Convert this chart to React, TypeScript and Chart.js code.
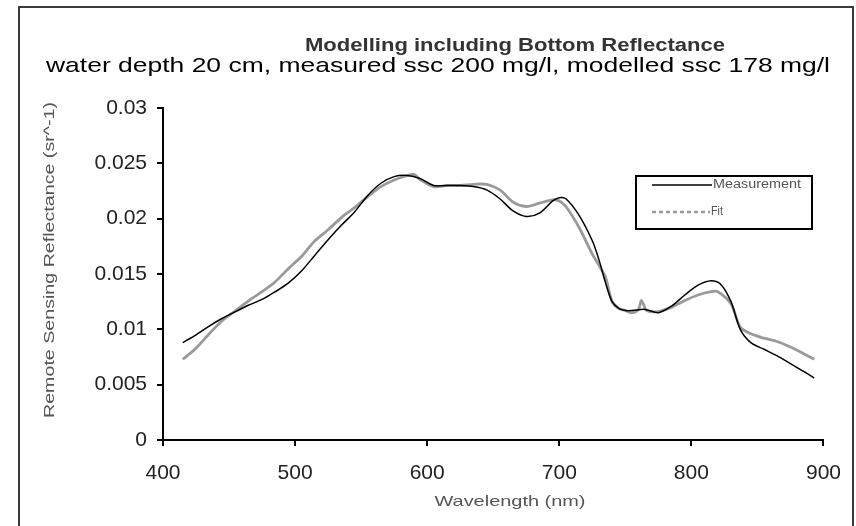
import React, { useEffect, useRef } from "react";
import { Chart, registerables } from "chart.js";

Chart.register(...registerables);

const titleText = "Modelling including Bottom Reflectance";
const subtitleText = "water depth 20 cm, measured ssc 200 mg/l, modelled ssc 178 mg/l";
const xAxisTitle = "Wavelength (nm)";
const yAxisTitle = "Remote Sensing Reflectance (sr^-1)";
const seriesNames = ["Measurement", "Fit"];

const measWavelength = [
  415, 425, 435, 445, 455, 465, 475, 485, 495, 505, 515, 525, 535, 545, 555, 565, 575, 585,
  595, 605, 615, 625, 635, 645, 655, 665, 675, 685, 695, 700, 705, 715, 725, 730, 735, 740,
  745, 750, 755, 765, 775, 785, 795, 805, 815, 822, 830, 837, 845, 855, 865, 875, 885, 893,
];
const measurement = [
  0.0088, 0.0095, 0.0103, 0.011, 0.0116, 0.0122, 0.0127, 0.0134, 0.0142, 0.0153, 0.0167,
  0.0181, 0.0194, 0.0206, 0.0221, 0.0232, 0.0238, 0.0239, 0.0236, 0.023, 0.023, 0.023, 0.0229,
  0.0226, 0.0218, 0.0207, 0.0202, 0.0205, 0.0216, 0.0219, 0.0218, 0.0203, 0.018, 0.0163,
  0.0142, 0.0125, 0.0119, 0.0117, 0.0117, 0.0118, 0.0115, 0.0121, 0.0131, 0.014, 0.0144,
  0.0141, 0.0125, 0.01, 0.0088, 0.0082, 0.0076, 0.0069, 0.0062, 0.0056,
];

const fitWavelength = [
  415, 425, 435, 445, 455, 465, 475, 485, 495, 505, 515, 525, 535, 545, 555, 565, 575, 585,
  590, 595, 605, 615, 625, 635, 645, 655, 665, 675, 685, 695, 700, 705, 715, 725, 730, 735,
  740, 745, 750, 755, 760, 762, 764, 766, 775, 785, 795, 805, 815, 820, 830, 837, 845, 855,
  865, 875, 885, 893,
];
const fit = [
  0.0073, 0.0083, 0.0096, 0.0108, 0.0117, 0.0126, 0.0134, 0.0143, 0.0155, 0.0166, 0.018,
  0.019, 0.0201, 0.021, 0.022, 0.0229, 0.0235, 0.0239, 0.024, 0.0235, 0.0229, 0.023, 0.023,
  0.0231, 0.0231, 0.0226, 0.0215, 0.0211, 0.0214, 0.0217, 0.0216, 0.0211, 0.0192, 0.0168,
  0.0158, 0.0147, 0.0125, 0.0119, 0.0117, 0.0115, 0.0118, 0.0126, 0.0122, 0.0117, 0.0116,
  0.012, 0.0126, 0.0131, 0.0134, 0.0134, 0.0123, 0.0102, 0.0096, 0.0092, 0.0089, 0.0084,
  0.0078, 0.0073,
];

const FONT = "'Liberation Sans', Arial, sans-serif";

function fittedText(ctx: any, text: string, cx: number, y: number, font: string, width: number) {
  ctx.save();
  ctx.font = font;
  const w = ctx.measureText(text).width;
  ctx.translate(cx, y);
  ctx.scale(width / w, 1);
  ctx.textAlign = "center";
  ctx.fillText(text, 0, 0);
  ctx.restore();
}

const decor = {
  id: "decor",
  beforeDraw(chart: any) {
    const ctx = chart.ctx;
    ctx.save();
    ctx.fillStyle = "#fff";
    ctx.fillRect(0, 0, chart.width, chart.height);
    ctx.restore();
  },
  afterDraw(chart: any) {
    const ctx = chart.ctx;
    ctx.save();
    // frame
    ctx.strokeStyle = "#3a3a3a";
    ctx.lineWidth = 2;
    ctx.strokeRect(19, 7, 834, 560);

    // titles
    ctx.textBaseline = "alphabetic";
    ctx.fillStyle = "#333";
    fittedText(ctx, titleText, 515, 51, "bold 18px " + FONT, 420);
    ctx.fillStyle = "#000";
    fittedText(ctx, subtitleText, 438, 72, "21px " + FONT, 784);

    // axis titles
    ctx.textBaseline = "middle";
    ctx.fillStyle = "#555";
    fittedText(ctx, xAxisTitle, 510, 502, "15px " + FONT, 151);
    ctx.save();
    ctx.translate(50, 260);
    ctx.rotate(-Math.PI / 2);
    fittedText(ctx, yAxisTitle, 0, 0, "15px " + FONT, 316);
    ctx.restore();

    // legend
    ctx.strokeStyle = "#000";
    ctx.lineWidth = 2;
    ctx.strokeRect(636, 176, 176, 53);
    ctx.lineWidth = 1.5;
    ctx.beginPath();
    ctx.moveTo(652, 185);
    ctx.lineTo(712, 185);
    ctx.stroke();
    ctx.strokeStyle = "#999";
    ctx.lineWidth = 2.5;
    ctx.setLineDash([4, 3]);
    ctx.beginPath();
    ctx.moveTo(652, 212);
    ctx.lineTo(710, 212);
    ctx.stroke();
    ctx.setLineDash([]);
    ctx.fillStyle = "#555";
    fittedText(ctx, seriesNames[0], 757, 185, "12px " + FONT, 88);
    fittedText(ctx, seriesNames[1], 717, 212, "12px " + FONT, 12);
    ctx.restore();
  },
};

export default function App() {
  const ref = useRef<HTMLCanvasElement | null>(null);
  useEffect(() => {
    document.body.style.margin = "0";
    const canvas = ref.current!;
    const chart = new Chart(canvas, {
      type: "line",
      data: {
        datasets: [
          {
            label: seriesNames[0],
            data: measWavelength.map((x, i) => ({ x, y: measurement[i] })),
            borderColor: "#000",
            borderWidth: 1.5,
            pointRadius: 0,
            tension: 0.3,
            order: 0,
          },
          {
            label: seriesNames[1],
            data: fitWavelength.map((x, i) => ({ x, y: fit[i] })),
            borderColor: "#9a9a9a",
            borderWidth: 2.8,
            pointRadius: 0,
            tension: 0.3,
            order: 1,
          },
        ],
      },
      options: {
        animation: false,
        responsive: false,
        layout: { padding: { top: 108, right: 26, left: 0, bottom: 0 } },
        plugins: { legend: { display: false }, title: { display: false }, tooltip: { enabled: false } },
        scales: {
          x: {
            type: "linear",
            min: 400,
            max: 900,
            afterFit: (s: any) => {
              s.height = 86;
            },
            ticks: {
              stepSize: 100,
              color: "#222",
              font: { family: FONT, size: 21 },
              padding: 15,
              maxRotation: 0,
            },
            grid: { display: true, drawOnChartArea: false, drawTicks: true, tickLength: 6, color: "#000", lineWidth: 2 },
            border: { display: true, color: "#000", width: 2 },
          },
          y: {
            type: "linear",
            min: 0,
            max: 0.03,
            afterFit: (s: any) => {
              s.width = 163;
            },
            ticks: {
              stepSize: 0.005,
              color: "#222",
              font: { family: FONT, size: 21 },
              padding: 10,
              callback: (v: any) => String(+Number(v).toFixed(3)),
            },
            grid: { display: true, drawOnChartArea: false, drawTicks: true, tickLength: 6, color: "#000", lineWidth: 2 },
            border: { display: true, color: "#000", width: 2 },
          },
        },
      },
      plugins: [decor],
    });
    return () => chart.destroy();
  }, []);
  return <canvas ref={ref} width={856} height={526} style={{ display: "block" }} />;
}
